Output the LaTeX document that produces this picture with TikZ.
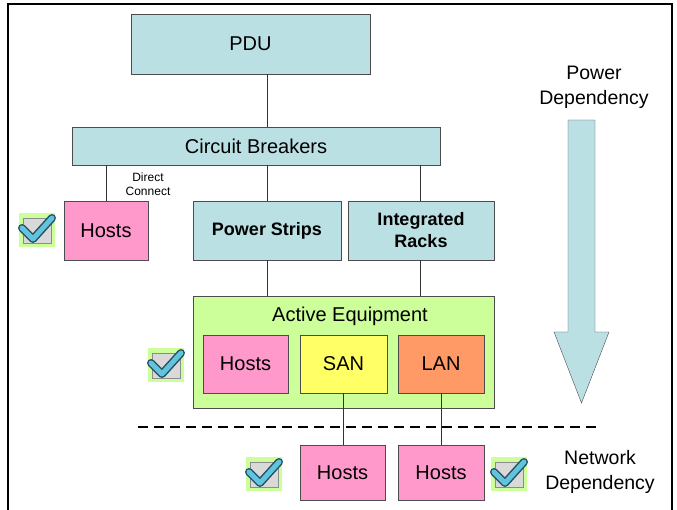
\documentclass[tikz,border=0pt]{standalone}
\usepackage{fontspec}
\setmainfont{Liberation Sans}
\usetikzlibrary{positioning, calc}

\definecolor{boxblue}{RGB}{187,224,227}
\definecolor{hostpink}{RGB}{255,153,204}
\definecolor{sanyellow}{RGB}{255,255,102}
\definecolor{lanorange}{RGB}{255,153,102}
\definecolor{activegreen}{RGB}{204,255,153}
\definecolor{tickblue}{RGB}{96,196,222}
\definecolor{tickdark}{RGB}{40,80,100}

\begin{document}
\begin{tikzpicture}[x=1pt, y=-1pt,
    box/.style={draw=black!70, fill=boxblue, inner sep=0pt, align=center, font=\fontsize{20}{24}\selectfont},
    boldbox/.style={box, font=\fontsize{18}{22}\selectfont\bfseries},
    host/.style={box, fill=hostpink, minimum width=85pt, minimum height=58pt},
    group/.style={draw=black!70, fill=activegreen, inner sep=0pt},
    label/.style={align=center, font=\fontsize{19.5}{25}\selectfont},
    link/.style={draw=black!80, thin}
]
    \useasboundingbox (0,0) rectangle (677,510);

    % Frame
    \draw[line width=1.6pt] (8,520) -- (8,4) -- (672,4) -- (672,520);

    % Power side
    \node[box, minimum width=239pt, minimum height=60pt] (PDU) at (250.5,44) {PDU};
    \node[box, minimum width=368pt, minimum height=38pt] (CB) at (256,146) {Circuit Breakers};
    \node[host, minimum width=84pt, minimum height=59pt] (H0) at (106,230.5) {Hosts};
    \node[boldbox, minimum width=148pt, minimum height=59pt] (PS) at (267,230.5) {\raisebox{-3pt}{Power Strips}};
    \node[boldbox, minimum width=146pt, minimum height=59pt] (IR) at (421,230.5) {\raisebox{-2pt}{Integrated}\\\raisebox{-2pt}{Racks}};
    \node[align=center, font=\fontsize{12}{13.5}\selectfont] (DC) at (148,184) {Direct\\Connect};

    % Active equipment
    \node[group, minimum width=301pt, minimum height=112pt] (AE) at (343.5,352) {};
    \node[label, font=\fontsize{20}{24}\selectfont] (AEL) at (350,316) {Active Equipment};
    \node[host] (H1) at (245.5,364) {Hosts};
    \node[host, fill=sanyellow, minimum width=87pt] (SAN) at (343.5,364) {SAN};
    \node[host, fill=lanorange, minimum width=86pt] (LAN) at (441,364) {LAN};

    % Network side
    \node[host, minimum height=55pt] (H2) at (342.5,472.5) {Hosts};
    \node[host, minimum width=86pt, minimum height=55pt] (H3) at (441,472.5) {Hosts};

    % Connections
    \draw[link] (PDU.south -| PS.north) -- (CB.north -| PS.north);
    \draw[link] (CB.south -| H0.north) -- (H0.north);
    \draw[link] (CB.south -| PS.north) -- (PS.north);
    \draw[link] ($(CB.south -| IR.north)+(-1,0)$) -- ($(IR.north)+(-1,0)$);
    \draw[link] (PS.south) -- (PS.south |- AE.north);
    \draw[link] ($(IR.south)+(-1,0)$) -- ($(IR.south |- AE.north)+(-1,0)$);
    \draw[link] (SAN.south) -- (SAN.south |- H2.north);
    \draw[link] (LAN.south) -- (LAN.south |- H3.north);

    % Power / network boundary
    \draw[line width=2.6pt, dash pattern=on 10pt off 6pt] (138,427) -- (600,427);

    % Dependency arrow
    \draw[draw=black!70, fill=boxblue] (568,120) -- (595,120) -- (595,332) -- (609,332)
        -- (581.5,403) -- (554,332) -- (568,332) -- cycle;
    \node[label] (PD) at (594,87) {Power\\Dependency};
    \node[label] (ND) at (600,472) {Network\\Dependency};

    % Check boxes
    \foreach \x/\y in {19/213, 148/348, 246/457, 491/457} {
        \fill[activegreen] (\x,\y) rectangle ++(36,34);
        \draw[black!45, fill=black!15] ({\x+4},{\y+5}) rectangle ({\x+32},{\y+30});
        \draw[tickdark, line width=8pt, line cap=round, line join=round]
            ({\x+3},{\y+15}) -- ({\x+14},{\y+26}) -- ({\x+33},{\y+5});
        \draw[tickblue, line width=5pt, line cap=round, line join=round]
            ({\x+3},{\y+15}) -- ({\x+14},{\y+26}) -- ({\x+33},{\y+5});
    }

\end{tikzpicture}
\end{document}
